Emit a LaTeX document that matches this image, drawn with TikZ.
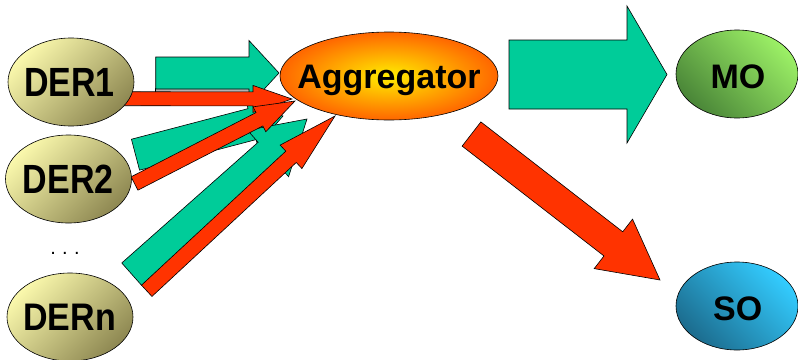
\documentclass[tikz,border=0pt]{standalone}
\usepackage{fontspec}
\setmainfont{Liberation Sans}
\usepackage{graphicx}
\usetikzlibrary{shapes.geometric,calc}

\definecolor{flowgreen}{HTML}{00CC99}
\definecolor{flowred}{HTML}{FF3300}
\definecolor{derlight}{HTML}{FAF8AC}
\definecolor{derdark}{HTML}{8E8852}
\definecolor{aggin}{HTML}{FFEE00}
\definecolor{aggout}{HTML}{FF6600}
\definecolor{molight}{HTML}{9CF066}
\definecolor{modark}{HTML}{4A8638}
\definecolor{solight}{HTML}{33CCFF}
\definecolor{sodark}{HTML}{1C6C8E}

% block arrow: #1 tail, #2 tip, #3 half shaft width, #4 half head width,
% #5 head length, #6 style
\newcommand{\blockarrow}[6]{%
  \coordinate (hb) at ($(#2)!#5!(#1)$);
  \draw[#6] ($(#1)!#3!90:(#2)$) -- ($(hb)!#3!90:(#2)$) -- ($(hb)!#4!90:(#2)$)
    -- (#2) -- ($(hb)!#4!-90:(#2)$) -- ($(hb)!#3!-90:(#2)$)
    -- ($(#1)!#3!-90:(#2)$) -- cycle;
}

\tikzset{
  outline/.style={draw=black, line width=0.6pt, line join=miter},
  greenflow/.style={outline, fill=flowgreen},
  redflow/.style={outline, fill=flowred},
  oval/.style={ellipse, outline, inner sep=0pt},
  derbox/.style={oval, minimum width=126pt, minimum height=88pt,
    top color=derlight, bottom color=derdark, shading angle=45},
  aggbox/.style={oval, minimum width=218pt, minimum height=88pt,
    inner color=aggin, outer color=aggout},
  mobox/.style={oval, minimum width=122pt, minimum height=88pt,
    top color=molight, bottom color=modark, shading angle=-45},
  sobox/.style={oval, minimum width=122pt, minimum height=88pt,
    top color=solight, bottom color=sodark, shading angle=-45},
  lbl/.style={anchor=base, inner sep=0pt, font=\bfseries\fontsize{34}{34}\selectfont},
}

\begin{document}
\begin{tikzpicture}[x=1pt, y=-1pt]
\useasboundingbox (0,0) rectangle (798,359);

% end points of the flows
\coordinate (g1s) at (155.7,73);   \coordinate (g1e) at (279,73);
\coordinate (g2s) at (135.5,154.7); \coordinate (g2e) at (283,116);
\coordinate (gns) at (131.7,274.2); \coordinate (gne) at (307,119);
\coordinate (r1s) at (112,98.7);   \coordinate (r1e) at (292,99);
\coordinate (r2s) at (134.5,183.5); \coordinate (r2e) at (295,101);
\coordinate (rns) at (146.7,290.8); \coordinate (rne) at (335,116);
\coordinate (bgs) at (509,74.5);   \coordinate (bge) at (667,74.5);
\coordinate (brs) at (471.5,134);  \coordinate (bre) at (660,280);

% green flows into the aggregator
\blockarrow{g2s}{g2e}{16pt}{22pt}{32pt}{greenflow}
\blockarrow{gns}{gne}{15pt}{31pt}{52pt}{greenflow}
\draw[outline, fill=gray!60] (155.7,88.5) rectangle (250,93);
\blockarrow{g1s}{g1e}{16pt}{32.5pt}{30pt}{greenflow}

% red flows into the aggregator
\blockarrow{r1s}{r1e}{7pt}{13.5pt}{39pt}{redflow}
\blockarrow{r2s}{r2e}{7.5pt}{14pt}{40pt}{redflow}
\blockarrow{rns}{rne}{7.7pt}{16pt}{60pt}{redflow}

% flows out of the aggregator
\blockarrow{bgs}{bge}{34.5pt}{68.5pt}{40pt}{greenflow}
\blockarrow{brs}{bre}{15.3pt}{31.3pt}{59pt}{redflow}

% ovals
\node[derbox] (der1) at (71,82) {};
\node[derbox] (der2) at (68.5,179) {};
\node[derbox] (dern) at (70,317) {};
\node[aggbox] (agg) at (389,76) {};
\node[mobox] (mo) at (737,74) {};
\node[sobox] (so) at (737,306) {};

% labels
\node[lbl] (der1t) at (69.5,96.7) {\scalebox{1}[1.2]{DER1}};
\node[lbl] (der2t) at (68.3,193.4) {\scalebox{1}[1.2]{DER2}};
\node[lbl] (derntx) at (69.7,330) {\scalebox{1}[1.13]{DERn}};
\node[lbl] (aggt) at (389,88.3) {Aggregator};
\node[lbl] (mot) at (738,88.3) {MO};
\node[lbl] (sot) at (737.7,320) {SO};
\node[anchor=base, inner sep=0pt, font=\fontsize{20}{20}\selectfont] (dots) at (65,254.5)
  {.\hspace{6.4pt}.\hspace{6.4pt}.};
\end{tikzpicture}
\end{document}
